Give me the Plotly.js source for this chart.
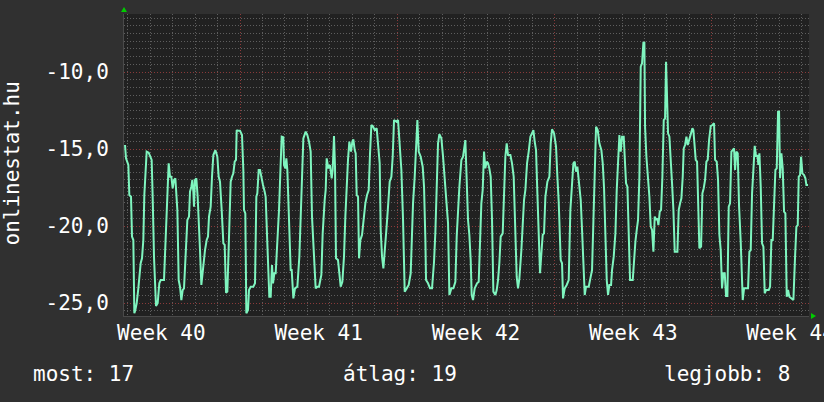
<!DOCTYPE html>
<html>
<head>
<meta charset="utf-8">
<script src="https://cdn.plot.ly/plotly-3.0.1.min.js"></script>
<style>html,body{margin:0;padding:0;background:#303030;}#chart{width:824px;height:402px;}</style>
</head>
<body>
<div id="chart"></div>
<script>
// time in days since Monday of week 40
const days = [
1.883,1.927,2.031,2.075,2.150,2.194,2.253,2.298,2.342,2.402,2.476,2.580,2.639,2.698,2.743,2.817,2.847,2.936,2.995,3.069,3.114,3.173,3.262,3.336,3.410,3.470,3.618,3.678,3.707,3.767,3.826,3.885,3.945,4.004,4.063,4.123,4.152,4.212,4.271,4.330,4.390,4.449,4.508,4.597,4.657,4.731,4.775,4.835,4.879,4.924,4.953,4.998,5.057,5.116,5.161,5.220,5.280,5.324,5.369,5.443,5.517,5.576,5.621,5.695,5.754,5.814,5.903,5.992,6.051,6.110,6.185,6.259,6.318,6.378,6.437,6.496,6.556,6.585,6.645,6.704,6.763,6.822,6.852,
6.881,7.000,7.089,7.148,7.178,7.237,7.282,7.356,7.400,7.475,7.593,7.668,7.727,7.771,7.831,7.890,7.949,8.024,8.098,8.142,8.216,8.261,8.305,8.365,8.424,8.469,8.528,8.587,8.662,8.736,8.810,8.855,8.928,8.958,9.018,9.062,9.107,9.181,9.255,9.300,9.374,9.448,9.552,9.641,9.700,9.774,9.819,9.923,9.997,10.071,10.145,10.204,10.293,10.367,10.442,10.516,10.620,10.679,10.768,10.813,10.857,10.931,11.005,11.080,11.124,11.183,11.228,11.272,11.361,11.421,11.480,11.555,11.628,11.688,11.747,11.806,11.866,
11.941,12.000,12.044,12.104,12.148,12.193,12.252,12.297,12.356,12.430,12.489,12.578,12.653,12.727,12.786,12.846,12.920,12.994,13.083,13.142,13.216,13.261,13.320,13.380,13.439,13.513,13.587,13.661,13.736,13.795,13.854,13.958,14.032,14.107,14.181,14.255,14.329,14.418,14.507,14.596,14.700,14.774,14.848,14.893,14.952,15.041,15.130,15.189,15.249,15.278,15.367,15.456,15.545,15.634,15.694,15.753,15.812,15.872,15.961,16.035,16.109,16.183,16.258,16.317,16.406,16.495,16.584,16.643,16.703,16.762,16.851,16.925,
17.028,17.088,17.147,17.206,17.266,17.310,17.370,17.444,17.548,17.622,17.681,17.740,17.800,17.859,17.918,17.978,18.037,18.096,18.156,18.215,18.274,18.363,18.423,18.482,18.541,18.601,18.690,18.749,18.808,18.868,18.927,19.031,19.105,19.179,19.253,19.313,19.372,19.432,19.521,19.580,19.639,19.699,19.773,19.847,19.921,19.995,20.055,20.114,20.173,20.233,20.292,20.351,20.411,20.470,20.529,20.589,20.678,20.767,20.826,20.885,20.974,21.063,21.123,21.182,21.271,21.330,21.375,21.449,21.538,21.627,21.701,21.775,21.835,21.894,21.953,22.013,22.072,
22.162,22.221,22.280,22.340,22.399,22.518,22.607,22.666,22.725,22.785,22.844,22.918,22.992,23.081,23.141,23.200,23.259,23.319,23.378,23.437,23.512,23.556,23.630,23.705,23.764,23.823,23.883,23.942,24.001,24.075,24.135,24.179,24.239,24.298,24.357,24.476,24.535,24.595,24.654,24.713,24.773,24.832,24.891,24.951,24.995,25.025,25.084,25.158,25.218,25.277,25.336,25.396,25.455,25.514,25.574,25.618,25.678,25.737,25.796,25.856,25.915,25.959,26.004,26.048,26.108,26.167,26.226,26.286,26.345,26.464,26.523,26.583,26.642,26.701,26.746,26.805,26.865,26.924,26.983,27.043,
27.131,27.175,27.220,27.279,27.339,27.398,27.442,27.517,27.576,27.635,27.695,27.754,27.813,27.873,27.947,28.021,28.095,28.140,28.214,28.273,28.332,28.392,28.451,28.511,28.570,28.629,28.689,28.748,28.807,28.867,28.926,28.985,29.030,29.089,29.148,29.208,29.282,29.326,29.371,29.430,29.519,29.608,29.668,29.727,29.786,29.846,29.905,29.964,30.024,30.068,30.113,30.172,30.231,30.291,30.350,30.409,30.528,30.587,30.647,30.706,30.765,30.825,30.884,30.943,30.988,31.032,31.091,31.151,31.210,31.269,31.329,31.388,31.447,31.536,31.626,31.700,31.759,31.819,31.863,31.922,31.967,32.026,32.100,32.160,32.204,32.278
];
const values = [
-14.74,-15.61,-16.04,-17.99,-18.10,-20.69,-20.91,-25.67,-25.45,-25.02,-24.05,-22.42,-22.10,-20.91,-17.99,-16.36,-15.17,-15.24,-15.50,-15.71,-18.10,-21.99,-25.20,-25.02,-23.72,-23.51,-23.51,-21.56,-20.69,-18.10,-15.93,-16.80,-16.80,-17.55,-17.01,-16.91,-17.55,-18.96,-23.51,-23.94,-24.81,-24.16,-24.05,-21.13,-19.61,-19.39,-17.77,-17.45,-17.01,-17.77,-18.74,-17.01,-16.91,-18.10,-19.39,-21.56,-23.83,-23.07,-22.42,-21.56,-20.91,-20.69,-19.39,-18.74,-16.80,-15.39,-15.07,-15.50,-16.80,-17.12,-18.96,-21.13,-21.23,-24.33,-24.26,-21.56,-19.18,-17.12,-16.80,-16.58,-15.82,-15.71,-13.77,
-13.81,-13.81,-14.09,-16.36,-18.96,-19.18,-25.67,-25.45,-24.16,-23.94,-23.94,-23.72,-18.10,-17.88,-16.36,-16.36,-16.91,-17.34,-17.77,-18.10,-21.13,-22.42,-24.59,-24.59,-22.53,-23.72,-23.07,-23.07,-21.02,-18.96,-15.93,-14.20,-14.24,-16.04,-16.26,-15.61,-16.36,-19.39,-22.86,-22.86,-24.70,-24.05,-23.94,-21.99,-19.39,-17.12,-14.31,-13.87,-14.09,-14.52,-15.17,-19.39,-22.42,-24.05,-23.94,-23.94,-23.18,-20.48,-18.31,-17.66,-15.61,-16.26,-16.04,-16.91,-16.36,-14.16,-16.15,-22.10,-22.21,-23.29,-23.94,-23.62,-21.99,-19.39,-17.01,-15.71,-14.52,
-15.17,-14.52,-14.37,-15.07,-15.28,-17.99,-18.10,-22.10,-20.91,-20.58,-19.61,-18.53,-17.99,-17.66,-15.28,-13.44,-13.55,-13.77,-13.66,-14.85,-15.93,-20.26,-21.99,-22.75,-21.78,-20.26,-18.74,-17.12,-16.80,-15.50,-13.12,-13.23,-13.12,-14.63,-16.36,-19.61,-24.26,-24.05,-23.83,-23.07,-18.53,-16.80,-14.20,-13.12,-15.17,-15.50,-16.15,-17.45,-20.91,-23.51,-23.72,-24.05,-24.05,-22.32,-20.37,-17.66,-14.63,-14.03,-14.31,-15.50,-16.80,-18.53,-19.83,-24.48,-24.05,-24.05,-23.62,-20.69,-18.53,-17.45,-15.71,-15.50,
-14.42,-17.88,-19.61,-20.58,-22.21,-24.48,-24.81,-24.05,-23.72,-23.62,-20.48,-18.53,-17.66,-15.17,-16.26,-15.82,-15.93,-16.26,-16.80,-19.61,-24.26,-24.48,-24.16,-23.51,-22.42,-20.69,-20.48,-18.10,-15.50,-14.63,-15.39,-15.39,-15.93,-16.80,-20.69,-23.29,-24.05,-23.40,-21.56,-20.04,-18.31,-17.66,-15.93,-15.17,-14.20,-13.98,-13.77,-14.52,-15.07,-17.88,-20.69,-23.07,-21.78,-20.58,-20.48,-18.10,-17.12,-16.80,-14.63,-13.72,-13.98,-14.85,-16.80,-18.42,-22.21,-22.42,-24.70,-24.05,-23.83,-23.51,-18.96,-17.55,-15.93,-15.82,-16.47,-16.15,-17.01,
-18.31,-20.26,-22.86,-24.48,-23.94,-23.94,-23.29,-22.86,-19.72,-16.36,-13.55,-13.77,-14.63,-15.07,-15.93,-17.55,-20.26,-23.51,-24.48,-23.83,-23.83,-22.86,-21.99,-20.48,-17.66,-16.15,-14.09,-15.17,-14.20,-14.20,-15.93,-17.23,-17.45,-19.83,-23.51,-23.51,-21.99,-21.02,-20.26,-19.61,-16.80,-9.65,-9.44,-8.10,-8.10,-13.55,-15.50,-16.69,-18.10,-20.04,-20.26,-21.67,-19.39,-19.61,-19.50,-19.94,-19.07,-18.96,-16.80,-13.12,-13.01,-9.33,-12.68,-13.98,-14.20,-16.15,-17.23,-18.96,-21.67,-21.67,-18.96,-18.53,-18.20,-16.80,-14.96,-14.74,-14.20,-14.74,-14.42,-14.20,
-13.66,-13.77,-14.63,-15.71,-15.82,-19.18,-21.45,-21.34,-17.88,-17.55,-17.01,-15.82,-15.71,-14.42,-13.51,-13.44,-13.33,-15.71,-15.82,-17.01,-20.58,-21.56,-24.05,-23.07,-23.07,-24.55,-24.55,-18.74,-18.53,-15.17,-15.06,-14.96,-16.36,-15.17,-15.28,-18.74,-21.02,-22.53,-24.81,-24.05,-24.05,-24.05,-21.67,-21.56,-17.88,-16.47,-14.80,-15.50,-15.39,-16.04,-15.28,-17.45,-21.13,-21.34,-24.37,-24.16,-24.16,-23.94,-20.91,-20.91,-19.07,-16.36,-16.26,-12.58,-12.58,-16.90,-15.28,-16.26,-19.07,-19.18,-24.59,-24.16,-24.59,-24.70,-24.81,-21.99,-20.04,-19.94,-16.80,-16.69,-15.50,-16.58,-16.69,-16.90,-17.34,-17.34
];

const weekTickVals = [3.5, 10.5, 17.5, 24.5, 31.5];
const weekTickText = ["Week 40", "Week 41", "Week 42", "Week 43", "Week 44"];
const yTickVals = [-25, -20, -15, -10];
const yTickText = ["-25,0", "-20,0", "-15,0", "-10,0"];
const yTitle = "onlinestat.hu";
const summaryLabels = ["most", "átlag", "legjobb"];
const summaryValues = [17, 19, 8];

const xRange = [1.838, 32.32];
const yRange = [-25.844, -6.234];
const FONT = "DejaVu Sans Mono, monospace";
const majorGrid = "#8a3a3a";
const minorGrid = "#5e5e5e";

const traces = [
  {x: days, y: values, type: "scatter", mode: "lines", xaxis: "x", yaxis: "y",
   line: {color: "#7ff5bf", width: 2}, hoverinfo: "skip"},
  {x: [], y: [], type: "scatter", mode: "lines", xaxis: "x2", yaxis: "y", hoverinfo: "skip", showlegend: false}
];

const sumX = [-0.0591, 0.4022, 0.8796];
const annotations = summaryLabels.map((l, i) => ({
  text: l + ": " + summaryValues[i], xref: "paper", yref: "paper",
  x: sumX[i], y: -0.191, xanchor: "center", yanchor: "middle", showarrow: false,
  font: {family: FONT, size: 21, color: "#ffffff"}
}));
annotations.push({
  text: yTitle, xref: "paper", yref: "paper", x: -0.1628, y: 0.5066,
  xanchor: "center", yanchor: "middle", textangle: -90, showarrow: false,
  font: {family: FONT, size: 21, color: "#ffffff"}
});

const layout = {
  width: 824, height: 402,
  margin: {l: 124, r: 15, t: 14, b: 86, pad: 0},
  paper_bgcolor: "#303030", plot_bgcolor: "#212121",
  font: {family: FONT, size: 21, color: "#ffffff"},
  showlegend: false,
  xaxis: {
    range: xRange, tickmode: "linear", tick0: 0, dtick: 7, showticklabels: false,
    showgrid: true, gridcolor: majorGrid, griddash: "1px,2px", gridwidth: 1,
    zeroline: false, ticks: "", showline: true, linecolor: "#4a4a4a", linewidth: 1,
    minor: {tickmode: "linear", tick0: 0, dtick: 1, showgrid: true, gridcolor: minorGrid, griddash: "1px,2px", gridwidth: 1}
  },
  xaxis2: {
    overlaying: "x", anchor: "y", side: "bottom", range: xRange,
    tickmode: "array", tickvals: weekTickVals, ticktext: weekTickText,
    showgrid: false, zeroline: false, ticks: "", ticklabelstandoff: 2,
    ticklabeloverflow: "allow",
    tickfont: {family: FONT, size: 21, color: "#ffffff"}
  },
  yaxis: {
    range: yRange, tickmode: "array", tickvals: yTickVals, ticktext: yTickText,
    showgrid: true, gridcolor: majorGrid, griddash: "1px,2px", gridwidth: 1,
    zeroline: false, ticks: "", ticklabelstandoff: 10, showline: true, linecolor: "#4a4a4a", linewidth: 1,
    tickfont: {family: FONT, size: 21, color: "#ffffff"},
    minor: {tickmode: "linear", tick0: 0, dtick: 0.5, showgrid: true, gridcolor: minorGrid, griddash: "1px,2px", gridwidth: 1}
  },
  shapes: [
    {type: "path", xref: "paper", yref: "paper", xsizemode: "pixel", ysizemode: "pixel",
     xanchor: 0, yanchor: 1, path: "M -3,2 L 3,2 L 0,7 Z", fillcolor: "#00cc00", line: {width: 0}},
    {type: "path", xref: "paper", yref: "paper", xsizemode: "pixel", ysizemode: "pixel",
     xanchor: 1, yanchor: 0, path: "M 2,-3 L 2,3 L 7,0 Z", fillcolor: "#00cc00", line: {width: 0}}
  ],
  annotations: annotations
};

Plotly.newPlot("chart", traces, layout, {staticPlot: true, displayModeBar: false});
</script>
</body>
</html>
